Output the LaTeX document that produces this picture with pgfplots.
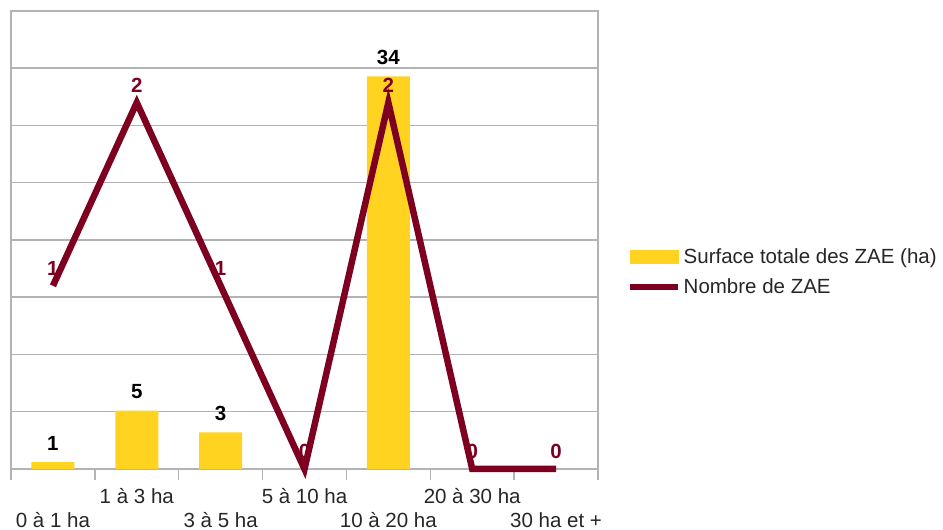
\documentclass[border=0pt]{standalone}
\usepackage{fontspec}
\setmainfont{Liberation Sans}
\usepackage{pgfplots}
\pgfplotsset{compat=1.18}
\definecolor{zaeyellow}{HTML}{FFD320}
\definecolor{zaered}{HTML}{7E0021}
\definecolor{gridgray}{HTML}{B3B3B3}

\begin{document}
\begin{tikzpicture}[font=\fontsize{20.5pt}{24pt}\selectfont]
\pgfplotsset{
  zaebase/.style={
    scale only axis, width=587pt, height=458pt,
    xmin=-0.5, xmax=6.5, ymin=0,
  },
}
% surface totale (axe principal)
\begin{axis}[zaebase, ymax=40,
  axis line style={gridgray, line width=1.5pt},
  ytick={0,5,...,40}, yticklabels={},
  ymajorgrids, grid style={gridgray, line width=1.5pt},
  major y tick style={draw=none},
  xtick={0,...,6},
  xticklabels={{\strut\\0 à 1 ha\strut},{1 à 3 ha\strut},{\strut\\3 à 5 ha\strut},{5 à 10 ha\strut},
               {\strut\\10 à 20 ha\strut},{20 à 30 ha\strut},{\strut\\30 ha et +\strut}},
  xticklabel style={align=center, anchor=north, text=black!85, yshift=-14pt},
  major x tick style={draw=none},
  minor xtick={-0.5,0.5,...,6.5},
  minor x tick style={gridgray, line width=1.5pt},
  major tick length=0pt, minor tick length=11pt, tick align=outside,
  xtick pos=bottom, ytick pos=left,
]
\addplot[ybar, bar width=0.512, fill=zaeyellow, draw=none,
  nodes near coords, point meta=explicit symbolic,
  nodes near coords style={font=\fontsize{20.5pt}{24pt}\selectfont\bfseries, black, yshift=8pt}]
  table[meta=label] {
x y label
0 0.6 1
1 5.1 5
2 3.2 3
4 34.3 34
};
\end{axis}
% nombre de ZAE (axe secondaire)
\begin{axis}[zaebase, ymax=2.5, hide axis, clip=false,
  legend style={at={(rel axis cs:1.0443,0.43)}, anchor=west, draw=none, fill=none,
    font=\fontsize{20.5pt}{24pt}\selectfont, text=black!85, row sep=10pt},
  legend cell align=left,
]
\addlegendimage{legend image code/.code={\fill[zaeyellow] (0pt,-6.5pt) rectangle (48pt,6.5pt);}}
\addlegendentry{Surface totale des ZAE (ha)}
\addplot[zaered, line width=6.5pt, line join=miter,
  legend image code/.code={\draw[zaered, line width=6.5pt] (0pt,0pt) -- (48pt,0pt);},
  nodes near coords, point meta=explicit symbolic,
  nodes near coords style={font=\fontsize{20.5pt}{24pt}\selectfont\bfseries, zaered, yshift=4pt}]
  table[meta=label] {
x y label
0 1 1
1 2 2
2 1 1
3 0 0
4 2 2
5 0 0
6 0 0
};
\addlegendentry{Nombre de ZAE}
\end{axis}
\pgfresetboundingbox
\path (-11pt,-61pt) rectangle (932pt,469pt);
\end{tikzpicture}
\end{document}
